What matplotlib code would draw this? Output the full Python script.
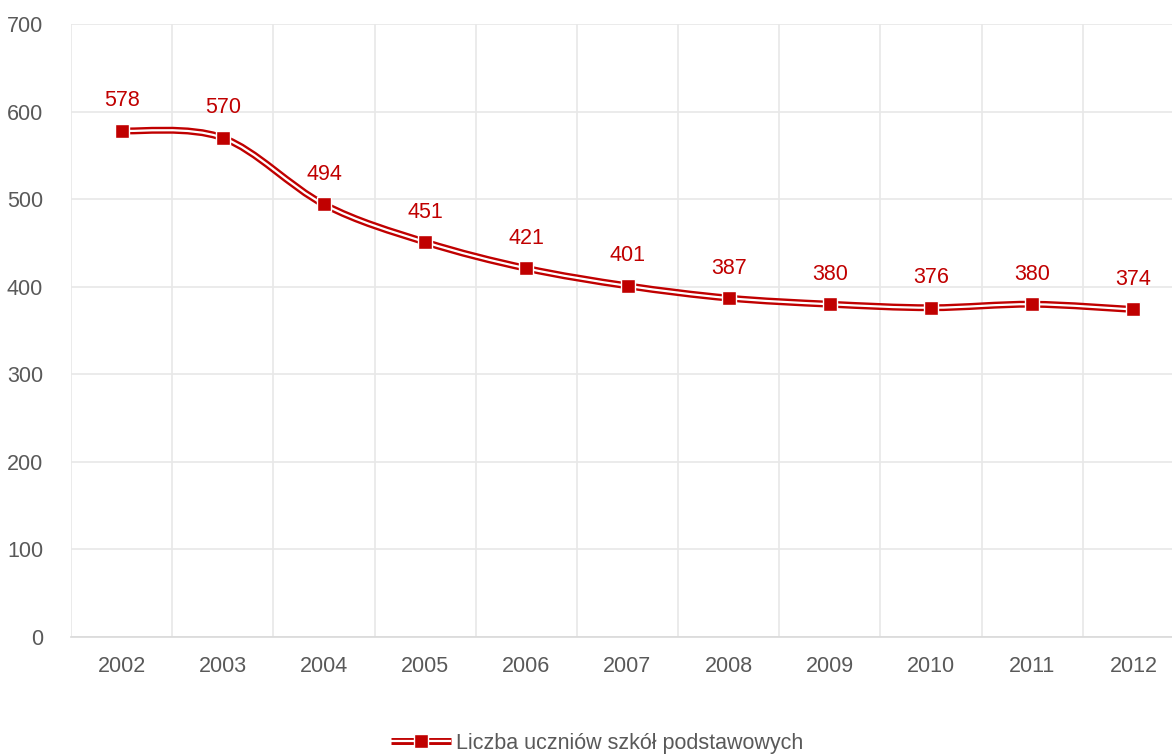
import matplotlib
matplotlib.use('Agg')
import matplotlib.pyplot as plt
from matplotlib.path import Path
from matplotlib.patches import PathPatch
from matplotlib.lines import Line2D
from matplotlib.legend_handler import HandlerTuple
import numpy as np

years = ['2002', '2003', '2004', '2005', '2006', '2007', '2008', '2009', '2010', '2011', '2012']
values = [578, 570, 494, 451, 421, 401, 387, 380, 376, 380, 374]
series_name = 'Liczba uczniów szkół podstawowych'

red = '#c00000'
gray = '#595959'
plt.rcParams['font.family'] = ['Liberation Sans', 'DejaVu Sans']

fig = plt.figure(figsize=(11.72, 7.56), dpi=100)
ax = fig.add_axes([71 / 1172, 1 - 637 / 756, 1113 / 1172, 613 / 756])

x = np.arange(len(years))
y = np.array(values, dtype=float)


def smooth_path(x, y, t=1 / 6):
    # bezier through points, like excel smoothed line
    verts = [(x[0], y[0])]
    codes = [Path.MOVETO]
    n = len(x)
    for i in range(n - 1):
        x0, y0 = (x[i - 1], y[i - 1]) if i > 0 else (x[i], y[i])
        x3, y3 = (x[i + 2], y[i + 2]) if i + 2 < n else (x[i + 1], y[i + 1])
        c1 = (x[i] + (x[i + 1] - x0) * t, y[i] + (y[i + 1] - y0) * t)
        c2 = (x[i + 1] - (x3 - x[i]) * t, y[i + 1] - (y3 - y[i]) * t)
        verts += [c1, c2, (x[i + 1], y[i + 1])]
        codes += [Path.CURVE4] * 3
    return Path(verts, codes)


p = smooth_path(x, y)
ax.add_patch(PathPatch(p, facecolor='none', edgecolor=red, lw=5.0, zorder=3, capstyle='butt'))
ax.add_patch(PathPatch(p, facecolor='none', edgecolor='white', lw=1.6, zorder=4, capstyle='butt'))
ax.plot(x, y, ls='none', marker='s', ms=10, mfc=red, mec='white', mew=1.0, zorder=5)

for xi, yi in zip(x, values):
    ax.annotate(str(yi), (xi, yi), xytext=(0, 14), textcoords='offset points',
                ha='center', va='bottom', color=red, fontsize=15.5)

ax.set_xlim(-0.5, len(years) - 0.5)
ax.set_ylim(0, 700)
ax.set_yticks(range(0, 701, 100))
ax.set_xticks(x)
ax.set_xticklabels(years)
ax.set_xticks(np.arange(-0.5, len(years), 1), minor=True)
ax.grid(True, which='minor', axis='x', color='#e8e8e8', lw=1.2)
ax.grid(True, which='major', axis='y', color='#e8e8e8', lw=1.2)
ax.set_axisbelow(True)
ax.tick_params(axis='both', which='both', length=0, labelsize=15.5, labelcolor=gray)
ax.tick_params(axis='y', pad=20)
ax.tick_params(axis='x', pad=14)
for s in ['top', 'right', 'left']:
    ax.spines[s].set_visible(False)
ax.spines['bottom'].set_color('#d9d9d9')
ax.spines['bottom'].set_linewidth(1.2)

h1 = Line2D([], [], color=red, lw=5.0, solid_capstyle='butt')
h2 = Line2D([], [], color='white', lw=1.6, solid_capstyle='butt')
h3 = Line2D([], [], ls='none', marker='s', ms=10, mfc=red, mec='white', mew=1.0)
fig.legend([(h1, h2, h3)], [series_name], handler_map={tuple: HandlerTuple(ndivide=1)},
           loc='center', bbox_to_anchor=(597 / 1172, 1 - 743 / 756), frameon=False,
           fontsize=15.5, labelcolor=gray, handlelength=2.8, handletextpad=0.25)

fig.savefig('out.png', dpi=100)
